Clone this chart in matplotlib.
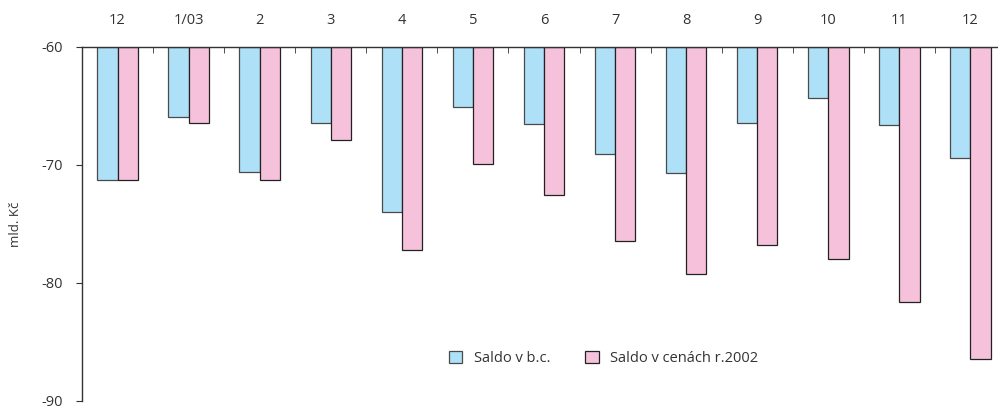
import matplotlib.pyplot as plt
import numpy as np

plt.rcParams["font.family"] = ["Open Sans", "DejaVu Sans"]
plt.rcParams["axes.unicode_minus"] = False

# Data (mld. Kč)
months = ["12", "1/03", "2", "3", "4", "5", "6", "7", "8", "9", "10", "11", "12"]
saldo_bc = [-71.3, -65.9, -70.6, -66.4, -74.0, -65.1, -66.5, -69.1, -70.7, -66.4, -64.3, -66.6, -69.4]
saldo_2002 = [-71.3, -66.4, -71.3, -67.9, -77.2, -69.9, -72.5, -76.4, -79.2, -76.8, -78.0, -81.6, -86.4]
base = -60

fig = plt.figure(figsize=(9.98, 4.07), dpi=100)
ax = fig.add_axes([82 / 998, 6 / 407, 924 / 998, 354 / 407])

x = np.arange(len(months))
width = 0.285
blue = "#aee0f8"
pink = "#f6c1da"

ax.bar(x - width / 2, np.array(saldo_bc) - base, width, bottom=base, color=blue,
       edgecolor="#4a4a4a", linewidth=0.9, label="Saldo v b.c.")
ax.bar(x + width / 2, np.array(saldo_2002) - base, width, bottom=base, color=pink,
       edgecolor="#222222", linewidth=0.9, label="Saldo v cenách r.2002")

ax.set_xlim(-0.5, len(months) - 0.5)
ax.set_ylim(-90, -60)
ax.set_yticks([-60, -70, -80, -90])

# month labels on top, small ticks between categories
ax.xaxis.tick_top()
ax.set_xticks(x)
ax.set_xticklabels(months)
ax.set_xticks(x[:-1] + 0.5, minor=True)
ax.tick_params(axis="x", which="major", length=0, pad=14, labelsize=10.5, colors="#333333")
ax.tick_params(axis="x", which="minor", direction="in", length=4, color="#333333", top=True, bottom=False)
ax.tick_params(axis="y", direction="out", length=4, labelsize=10.5, colors="#333333", pad=10)

for side in ["bottom", "right"]:
    ax.spines[side].set_visible(False)
for side in ["top", "left"]:
    ax.spines[side].set_color("#333333")
    ax.spines[side].set_linewidth(1.0)

ax.set_ylabel("mld. Kč", fontsize=9.5, color="#333333", labelpad=14)

fig.legend(loc="center", bbox_to_anchor=(0.605, 0.12), ncol=2, frameon=False,
           fontsize=10.5, handlelength=0.9, handleheight=0.9, columnspacing=2.4,
           handletextpad=0.8, labelcolor="#333333")

fig.savefig("out.png", dpi=100, facecolor="white")
